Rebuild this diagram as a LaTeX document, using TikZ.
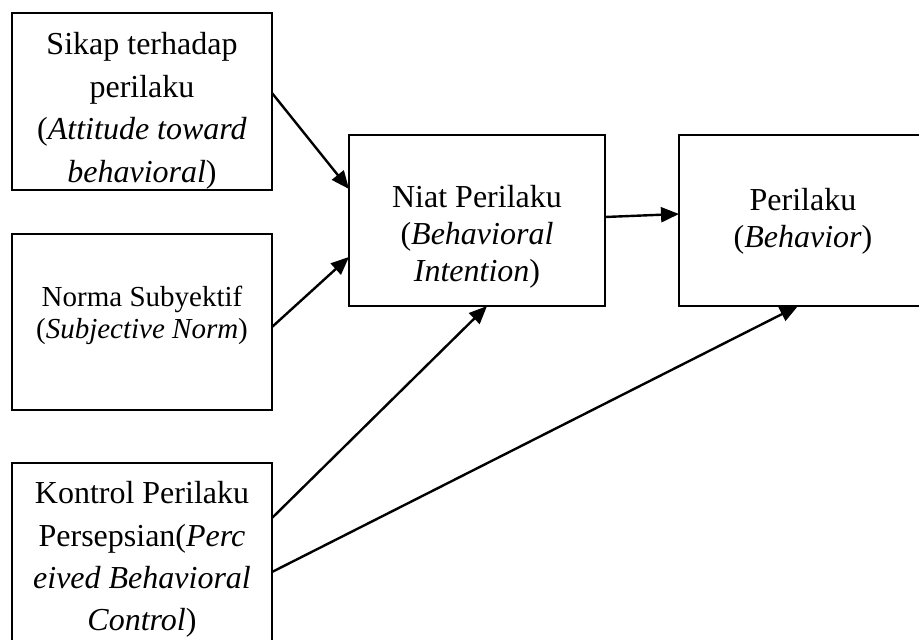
\documentclass[tikz,border=0pt]{standalone}
\usepackage{fontspec}
\setmainfont{Liberation Serif}
\usetikzlibrary{arrows.meta}
\begin{document}
\begin{tikzpicture}[x=1pt,y=-1pt,
  box/.style={draw=black,line width=2.4pt,rectangle,inner sep=0pt},
  txt/.style={anchor=base,inner sep=0pt,font=\fontsize{32}{38}\selectfont},
  smalltxt/.style={txt,font=\fontsize{29}{34}\selectfont},
  conn/.style={line width=2.4pt,-{Triangle[length=18pt,width=15pt]}}]
\useasboundingbox (0,0) rectangle (919,640);
% boxes
\node[box,minimum width=260pt,minimum height=177pt] (b1) at (142,101.5) {};
\node[box,minimum width=260pt,minimum height=176pt] (b2) at (142,322) {};
\node[box,minimum width=260pt,minimum height=190pt] (b3) at (142,558) {};
\node[box,minimum width=256pt,minimum height=171pt] (b4) at (477,220.5) {};
\node[box,minimum width=248pt,minimum height=171pt] (b5) at (803,220.5) {};
% texts
\node[txt] (t1a) at (142,54) {Sikap terhadap};
\node[txt] (t1b) at (142,97) {perilaku};
\node[txt] (t1c) at (142,139) {(\textit{Attitude toward}};
\node[txt] (t1d) at (142,182) {\textit{behavioral})};
\node[smalltxt] (t2a) at (142,306) {Norma Subyektif};
\node[smalltxt] (t2b) at (142,338) {(\textit{Subjective Norm})};
\node[txt] (t3a) at (142,503) {Kontrol Perilaku};
\node[txt] (t3b) at (142,546) {Persepsian(\textit{Perc}};
\node[txt] (t3c) at (142,588) {\textit{eived Behavioral}};
\node[txt] (t3d) at (142,630) {\textit{Control})};
\node[txt] (t4a) at (477,207) {Niat Perilaku};
\node[txt] (t4b) at (477,244) {(\textit{Behavioral}};
\node[txt] (t4c) at (477,281) {\textit{Intention})};
\node[txt] (t5a) at (803,210) {Perilaku};
\node[txt] (t5b) at (803,247) {(\textit{Behavior})};
% connector end points on box borders
\coordinate (e1s) at (272,93);
\coordinate (e1t) at (349,189);
\coordinate (e2s) at (272,327);
\coordinate (e2t) at (349,257);
\coordinate (e3s) at (272,518);
\coordinate (e3t) at (487,306);
\coordinate (e4s) at (272,572);
\coordinate (e4t) at (798,306);
\coordinate (e5s) at (605,217);
\coordinate (e5t) at (679,214);
\draw[conn] (e1s) -- (e1t);
\draw[conn] (e2s) -- (e2t);
\draw[conn] (e3s) -- (e3t);
\draw[conn] (e4s) -- (e4t);
\draw[conn] (e5s) -- (e5t);
\end{tikzpicture}
\end{document}
